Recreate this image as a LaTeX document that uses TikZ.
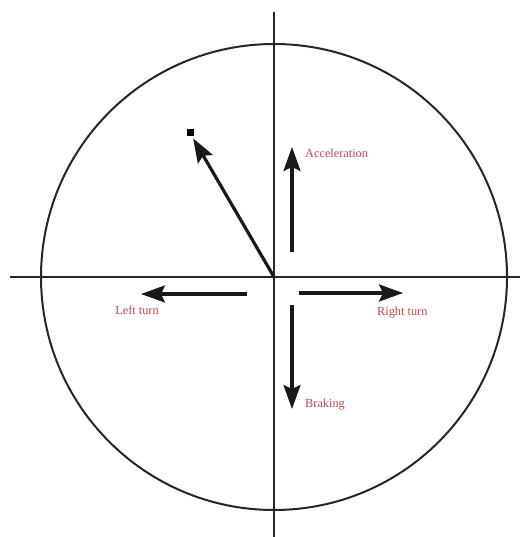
\documentclass[tikz,border=0pt]{standalone}
\usepackage{fontspec}
\setmainfont{Liberation Serif}
\usetikzlibrary{arrows.meta, positioning}
\definecolor{labelred}{HTML}{C9444E}

\begin{document}
\begin{tikzpicture}[x=1pt, y=-1pt,
    achse/.style={line width=2pt, black!85},
    kraft/.style={-{Stealth[length=24pt, width=17pt, inset=4pt]}, line width=3.2pt, black!90},
    beschr/.style={font=\fontsize{12.3}{14}\selectfont, text=labelred, inner sep=0pt}]
  \useasboundingbox (0,0) rectangle (531,537);

  % Kreis und Achsen
  \coordinate (M) at (274,277);
  \draw[achse] (M) circle (233);
  \coordinate (xl) at (10,277);
  \coordinate (xr) at (520,277);
  \coordinate (yo) at (274,12);
  \coordinate (yu) at (274,537);
  \draw[achse] (xl) -- (xr);
  \draw[achse] (yo) -- (yu);

  % Resultierende
  \node[fill=black, minimum size=7pt, inner sep=0pt] (P) at (190,133) {};
  \draw[kraft, shorten >=2pt] (M) -- (P);

  % Pfeile
  \coordinate (a1) at (292,252);
  \coordinate (a2) at (292,147);
  \draw[kraft] (a1) -- (a2);
  \node[beschr, anchor=west] (acc) at (305,153) {Acceleration};

  \coordinate (l1) at (247,294);
  \coordinate (l2) at (141,294);
  \draw[kraft] (l1) -- (l2);
  \node[beschr] (left) at (137,310) {Left turn};

  \coordinate (r1) at (299,293);
  \coordinate (r2) at (403,293);
  \draw[kraft] (r1) -- (r2);
  \node[beschr, anchor=west] (right) at (377,313) {Right turn};

  \coordinate (b1) at (292,305);
  \coordinate (b2) at (292,409);
  \draw[kraft] (b1) -- (b2);
  \node[beschr, anchor=west] (brake) at (305,405) {Braking};
\end{tikzpicture}
\end{document}
